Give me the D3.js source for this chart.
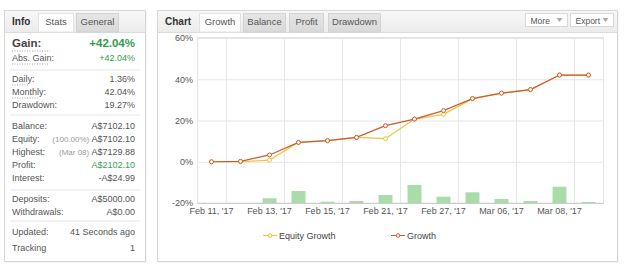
<!DOCTYPE html>
<html>
  <head>
    <meta charset="UTF-8" />
    <script src="https://d3js.org/d3.v7.min.js"></script>
    <style>
      body { margin: 0; background: #fff; }
      text { font-family: "Liberation Sans", Arial, sans-serif; }
    </style>
  </head>
  <body>
    <div id="my_dataviz"></div>

    <script>
      // chart data
      var categories = [
        "Feb 11, '17", "Feb 12, '17", "Feb 13, '17", "Feb 14, '17",
        "Feb 15, '17", "Feb 16, '17", "Feb 21, '17", "Feb 22, '17",
        "Feb 27, '17", "Feb 28, '17", "Mar 06, '17", "Mar 07, '17",
        "Mar 08, '17", "Mar 09, '17",
      ];
      var growth = [0, 0.2, 3.3, 9.4, 10.2, 11.8, 17.5, 20.7, 24.8, 30.6, 33.3, 35.0, 42.04, 42.04];
      var equityGrowth = [0, 0, 0.8, 9.4, 10.2, 11.8, 11.2, 20.7, 23.0, 30.6, 33.3, 35.0, 42.04, 42.04];
      var dailyBars = [0, 0, 4.7, 12, 1.3, 2, 8, 18, 6.3, 10.7, 4, 2, 16.3, 1];
      var yTicks = [-20, 0, 20, 40, 60];
      var seriesNames = ["Equity Growth", "Growth"];

      // info panel data
      var infoTabs = ["Info", "Stats", "General"];
      var chartTabs = ["Chart", "Growth", "Balance", "Profit", "Drawdown"];
      var gainRows = [["Abs. Gain:", "+42.04%"]];
      var rateRows = [["Daily:", "1.36%"], ["Monthly:", "42.04%"], ["Drawdown:", "19.27%"]];
      var moneyRows = [
        ["Balance:", "", "A$7102.10"],
        ["Equity:", "(100.00%)", "A$7102.10"],
        ["Highest:", "(Mar 08)", "A$7129.88"],
        ["Profit:", "", "A$2102.10"],
        ["Interest:", "", "-A$24.99"],
      ];
      var depositRows = [["Deposits:", "A$5000.00"], ["Withdrawals:", "A$0.00"]];
      var trackRows = [["Updated:", "41 Seconds ago"], ["Tracking", "1"]];

      var width = 625, height = 269;
      var svg = d3.select("#my_dataviz").append("svg")
        .attr("width", width).attr("height", height);

      var defs = svg.append("defs");
      var grad = defs.append("linearGradient").attr("id", "hdr").attr("x1", 0).attr("y1", 0).attr("x2", 0).attr("y2", 1);
      grad.append("stop").attr("offset", "0%").attr("stop-color", "#f7f7f7");
      grad.append("stop").attr("offset", "100%").attr("stop-color", "#ececec");
      var tgrad = defs.append("linearGradient").attr("id", "tab").attr("x1", 0).attr("y1", 0).attr("x2", 0).attr("y2", 1);
      tgrad.append("stop").attr("offset", "0%").attr("stop-color", "#e6e6e6");
      tgrad.append("stop").attr("offset", "100%").attr("stop-color", "#d9d9d9");

      function panel(x0, y0, w, h) {
        svg.append("rect").attr("x", x0 + 1).attr("y", y0 + 1).attr("width", w).attr("height", h)
          .attr("fill", "#e9e9e9");
        svg.append("rect").attr("x", x0).attr("y", y0).attr("width", w).attr("height", h)
          .attr("fill", "#fff").attr("stroke", "#d6d6d6");
        svg.append("rect").attr("x", x0 + 0.5).attr("y", y0 + 0.5).attr("width", w - 1).attr("height", 21)
          .attr("fill", "url(#hdr)");
        svg.append("line").attr("x1", x0).attr("x2", x0 + w).attr("y1", y0 + 22).attr("y2", y0 + 22)
          .attr("stroke", "#dcdcdc");
      }

      function tab(x0, x1, y0, label, active) {
        svg.append("rect").attr("x", x0).attr("y", y0).attr("width", x1 - x0).attr("height", 32 - y0)
          .attr("fill", active ? "#fff" : "url(#tab)").attr("stroke", active ? "#e2e2e2" : "#d2d2d2");
        svg.append("text").attr("x", (x0 + x1) / 2).attr("y", 25).attr("text-anchor", "middle")
          .attr("font-size", 9.5).attr("fill", "#555").text(label);
      }

      // ---------- left info panel ----------
      panel(4.5, 10.5, 141, 251);
      svg.append("text").attr("x", 12).attr("y", 25).attr("font-size", 10).attr("font-weight", "bold")
        .attr("fill", "#333").text(infoTabs[0]);
      tab(38.5, 73.5, 13.5, infoTabs[1], true);
      tab(76.5, 118.5, 13.5, infoTabs[2], false);

      var lx = 12, rx = 135;
      function dotted(x0, w, yy) {
        svg.append("line").attr("x1", x0).attr("x2", x0 + w).attr("y1", yy).attr("y2", yy)
          .attr("stroke", "#888").attr("stroke-width", 0.8).attr("stroke-dasharray", "1,1.5");
      }
      function sep(yy) {
        svg.append("line").attr("x1", 10).attr("x2", 140).attr("y1", yy).attr("y2", yy)
          .attr("stroke", "#e6e6e6");
      }

      svg.append("text").attr("x", lx).attr("y", 47).attr("font-size", 11.5).attr("font-weight", "bold")
        .attr("fill", "#444").text("Gain:");
      dotted(lx, 38, 51);
      svg.append("text").attr("x", rx).attr("y", 47).attr("text-anchor", "end").attr("font-size", 11.5)
        .attr("font-weight", "bold").attr("fill", "#2e9c4c").text("+42.04%");
      gainRows.forEach(function (r, i) {
        var yy = 61 + i * 13;
        svg.append("text").attr("x", lx).attr("y", yy).attr("font-size", 9).attr("fill", "#555").text(r[0]);
        dotted(lx, 36, yy + 3);
        svg.append("text").attr("x", rx).attr("y", yy).attr("text-anchor", "end").attr("font-size", 9)
          .attr("fill", "#2e9c4c").text(r[1]);
      });
      sep(70);
      rateRows.forEach(function (r, i) {
        var yy = 82 + i * 13;
        svg.append("text").attr("x", lx).attr("y", yy).attr("font-size", 9).attr("fill", "#555").text(r[0]);
        if (i < 2) dotted(lx, i == 0 ? 17 : 27, yy + 3);
        svg.append("text").attr("x", rx).attr("y", yy).attr("text-anchor", "end").attr("font-size", 9)
          .attr("fill", "#555").text(r[1]);
      });
      sep(115);
      moneyRows.forEach(function (r, i) {
        var yy = 129 + i * 13;
        svg.append("text").attr("x", lx).attr("y", yy).attr("font-size", 9).attr("fill", "#555").text(r[0]);
        var t = svg.append("text").attr("x", rx).attr("y", yy).attr("text-anchor", "end").attr("font-size", 9);
        if (r[1]) t.append("tspan").attr("fill", "#999").attr("font-size", 8).text(r[1] + " ");
        t.append("tspan").attr("fill", r[0] == "Profit:" ? "#3a9a5c" : "#555").text(r[2]);
      });
      sep(190);
      depositRows.forEach(function (r, i) {
        var yy = 202 + i * 13;
        svg.append("text").attr("x", lx).attr("y", yy).attr("font-size", 9).attr("fill", "#555").text(r[0]);
        svg.append("text").attr("x", rx).attr("y", yy).attr("text-anchor", "end").attr("font-size", 9)
          .attr("fill", "#555").text(r[1]);
      });
      sep(221);
      trackRows.forEach(function (r, i) {
        var yy = 235 + i * 16;
        svg.append("text").attr("x", lx).attr("y", yy).attr("font-size", 9).attr("fill", "#555").text(r[0]);
        svg.append("text").attr("x", rx).attr("y", yy).attr("text-anchor", "end").attr("font-size", 9)
          .attr("fill", "#555").text(r[1]);
      });

      // ---------- right chart panel ----------
      panel(157.5, 10.5, 460, 251);
      svg.append("text").attr("x", 165).attr("y", 25).attr("font-size", 10).attr("font-weight", "bold")
        .attr("fill", "#333").text(chartTabs[0]);
      var tabX = [[199.5, 240.5], [243.5, 285.5], [289.5, 323.5], [328.5, 380.5]];
      tabX.forEach(function (p, i) {
        tab(p[0], p[1], 13.5, chartTabs[i + 1], i == 0);
      });
      [["More", 525.5, 567.5], ["Export", 570.5, 613.5]].forEach(function (b) {
        svg.append("rect").attr("x", b[1]).attr("y", 13.5).attr("width", b[2] - b[1]).attr("height", 13)
          .attr("fill", "#fff").attr("stroke", "#d8d8d8");
        svg.append("text").attr("x", b[1] + 5).attr("y", 23.5).attr("font-size", 8.5).attr("fill", "#555").text(b[0]);
        svg.append("path").attr("d", "M" + (b[2] - 11) + ",18 l6,0 l-3,4 z").attr("fill", "#aaa");
      });

      var x = d3.scaleBand().domain(categories).range([197, 603]);
      var y = d3.scaleLinear().domain([-20, 60]).range([203, 38]);
      var yb = d3.scaleLinear().domain([0, 100]).range([203, 103]);

      // plot border
      svg.append("rect").attr("x", 197.5).attr("y", 37.5).attr("width", 406).attr("height", 165.5)
        .attr("fill", "none").attr("stroke", "#e4e4e4");

      // gridlines + y axis
      svg.append("g").attr("transform", "translate(197,0)")
        .call(d3.axisLeft(y).tickValues(yTicks).tickFormat(function (d) { return d + "%"; })
          .tickSize(-406).tickPadding(4))
        .call(function (g) {
          g.select(".domain").remove();
          g.selectAll("line").attr("stroke", "#e6e6e6");
          g.selectAll("text").attr("fill", "#555").attr("font-size", 9)
            .attr("font-family", "'Liberation Sans', Arial, sans-serif");
        });

      svg.append("g").selectAll("line")
        .data(categories.filter(function (d, i) { return i % 2 == 1; }))
        .enter().append("line")
        .attr("x1", function (d) { return Math.round(x(d)) + 0.5; })
        .attr("x2", function (d) { return Math.round(x(d)) + 0.5; })
        .attr("y1", 38).attr("y2", 203).attr("stroke", "#e6e6e6");

      // bars
      svg.append("g").selectAll("rect").data(dailyBars).enter().append("rect")
        .attr("x", function (d, i) { return x(categories[i]) + x.bandwidth() * 0.26; })
        .attr("width", x.bandwidth() * 0.48)
        .attr("y", function (d) { return yb(d); })
        .attr("height", function (d) { return yb(0) - yb(d); })
        .attr("fill", "#a9dca9");

      // x axis
      svg.append("g").attr("transform", "translate(0,203)")
        .call(d3.axisBottom(x).tickValues(categories.filter(function (d, i) { return i % 2 == 0; }))
          .tickSize(0).tickPadding(5))
        .call(function (g) {
          g.select(".domain").attr("stroke", "#ccc");
          g.selectAll("text").attr("fill", "#555").attr("font-size", 9)
            .attr("font-family", "'Liberation Sans', Arial, sans-serif");
        });

      var cx = function (d, i) { return x(categories[i]) + x.bandwidth() / 2; };
      var line = d3.line().x(cx).y(function (d) { return y(d); });

      var equityColor = "#eec43a", growthColor = "#cc5a30";
      svg.append("path").datum(equityGrowth).attr("d", line)
        .attr("fill", "none").attr("stroke", equityColor).attr("stroke-width", 1.2);
      svg.append("g").selectAll("circle").data(equityGrowth).enter().append("circle")
        .attr("cx", cx).attr("cy", function (d) { return y(d); }).attr("r", 2)
        .attr("fill", "#fff").attr("stroke", equityColor).attr("stroke-width", 1);

      svg.append("path").datum(growth).attr("d", line)
        .attr("fill", "none").attr("stroke", growthColor).attr("stroke-width", 1.2);
      svg.append("g").selectAll("circle").data(growth).enter().append("circle")
        .attr("cx", cx).attr("cy", function (d) { return y(d); }).attr("r", 2)
        .attr("fill", "#fff").attr("stroke", growthColor).attr("stroke-width", 1);

      // legend
      var legend = svg.append("g").selectAll("g")
        .data([[seriesNames[0], equityColor, 263], [seriesNames[1], growthColor, 391]])
        .enter().append("g");
      legend.append("line").attr("x1", function (d) { return d[2]; })
        .attr("x2", function (d) { return d[2] + 14; })
        .attr("y1", 235.5).attr("y2", 235.5).attr("stroke", function (d) { return d[1]; });
      legend.append("circle").attr("cx", function (d) { return d[2] + 7; }).attr("cy", 235.5).attr("r", 1.8)
        .attr("fill", "#fff").attr("stroke", function (d) { return d[1]; });
      legend.append("text").attr("x", function (d) { return d[2] + 16; }).attr("y", 238.5)
        .attr("font-size", 9).attr("fill", "#444").text(function (d) { return d[0]; });
    </script>
  </body>
</html>
